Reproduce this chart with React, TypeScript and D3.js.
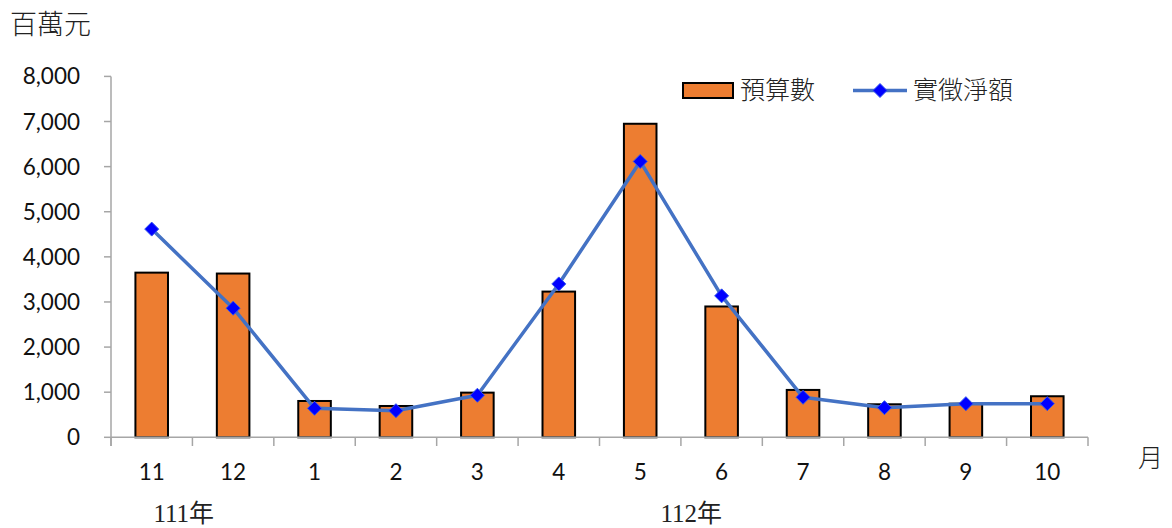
import React from "react";
import * as d3 from "d3";

const categories: string[] = ["11", "12", "1", "2", "3", "4", "5", "6", "7", "8", "9", "10"];
const budget: number[] = [3650, 3630, 805, 694, 990, 3230, 6950, 2900, 1050, 732, 745, 910];
const actual: number[] = [4615, 2862, 643, 590, 932, 3400, 6115, 3135, 887, 657, 746, 746];
const yTicks: number[] = [0, 1000, 2000, 3000, 4000, 5000, 6000, 7000, 8000];
const yearLabels: string[] = ["111年", "112年"];
const yearAnchors: string[] = ["11", "5"];

const W = 1172;
const H = 528;

export default function App() {
  const x = d3.scaleBand<string>().domain(categories).range([111, 1088]).paddingInner(0.6).paddingOuter(0.3);
  const xEdges = d3.scaleBand<string>().domain(categories).range([111, 1088]).padding(0);
  const y = d3.scaleLinear().domain([0, 8000]).range([437.3, 76.4]);
  const bw = x.bandwidth();
  const cx = (c: string) => (x(c) as number) + bw / 2;
  const fmt = d3.format(",");
  const line = d3
    .line<number>()
    .x((_, i) => cx(categories[i]))
    .y((d) => y(d));
  const axisColor = "#a6a6a6";
  const sans = "Lato, 'Noto Sans', sans-serif";
  const serifCJK = "'Liberation Serif', 'Noto Sans CJK TC', serif";
  const diamond = (px: number, py: number, r: number) =>
    `M${px},${py - r}L${px + r},${py}L${px},${py + r}L${px - r},${py}Z`;
  const yearOffsets = [32, 51];

  const edges = categories.map((c) => xEdges(c) as number).concat([xEdges.range()[1]]);

  return (
    <svg
      width={W}
      height={H}
      style={{ position: "absolute", left: 0, top: 0, background: "#fff" }}
    >
      {/* unit label */}
      <text x={10} y={34} fontFamily="'Noto Sans CJK TC'" fontSize={27} fontWeight={300} fill="#222">
        百萬元
      </text>

      {/* y axis */}
      <line x1={111} x2={111} y1={y(8000)} y2={446} stroke={axisColor} strokeWidth={1.5} />
      {yTicks.map((t) => (
        <g key={t}>
          <line x1={104} x2={111} y1={y(t)} y2={y(t)} stroke={axisColor} strokeWidth={1.5} />
          <text
            x={80}
            y={y(t) + 8}
            textAnchor="end"
            fontFamily={sans}
            fontSize={22.5}
            fill="#111"
          >
            {fmt(t)}
          </text>
        </g>
      ))}

      {/* bars */}
      {budget.map((v, i) => (
        <rect
          key={i}
          x={x(categories[i]) as number}
          y={y(v)}
          width={bw}
          height={y(0) - y(v)}
          fill="#ed7d31"
          stroke="#000"
          strokeWidth={2}
        />
      ))}

      {/* x axis */}
      <line x1={111} x2={1088} y1={y(0)} y2={y(0)} stroke={axisColor} strokeWidth={1.5} />
      {edges.map((e, i) => (
        <line key={i} x1={e} x2={e} y1={y(0)} y2={446} stroke={axisColor} strokeWidth={1.5} />
      ))}
      {categories.map((c) => (
        <text key={c} x={cx(c)} y={480} textAnchor="middle" fontFamily={sans} fontSize={22.5} fill="#111">
          {c}
        </text>
      ))}
      {yearLabels.map((yl, i) => (
        <text
          key={yl}
          x={cx(yearAnchors[i]) + yearOffsets[i]}
          y={522}
          textAnchor="middle"
          fontFamily={serifCJK}
          fontSize={25}
          fill="#222"
        >
          {yl}
        </text>
      ))}
      <text x={1138} y={467} fontFamily="'Noto Sans CJK TC'" fontSize={25} fontWeight={300} fill="#222">
        月
      </text>

      {/* line series */}
      <path d={line(actual) as string} fill="none" stroke="#4472c4" strokeWidth={3.5} strokeLinejoin="round" />
      {actual.map((v, i) => (
        <path key={i} d={diamond(cx(categories[i]), y(v), 7)} fill="#0000ff" stroke="#3355ee" strokeWidth={1} />
      ))}

      {/* legend */}
      <rect x={683} y={83} width={50} height={15} fill="#ed7d31" stroke="#000" strokeWidth={2} />
      <text x={740} y={99} fontFamily="'Noto Sans CJK TC'" fontSize={25} fontWeight={300} fill="#222">
        預算數
      </text>
      <line x1={853} x2={907} y1={90.5} y2={90.5} stroke="#4472c4" strokeWidth={3.5} />
      <path d={diamond(880, 90.5, 7)} fill="#0000ff" stroke="#3355ee" strokeWidth={1} />
      <text x={913} y={99} fontFamily="'Noto Sans CJK TC'" fontSize={25} fontWeight={300} fill="#222">
        實徵淨額
      </text>
    </svg>
  );
}
